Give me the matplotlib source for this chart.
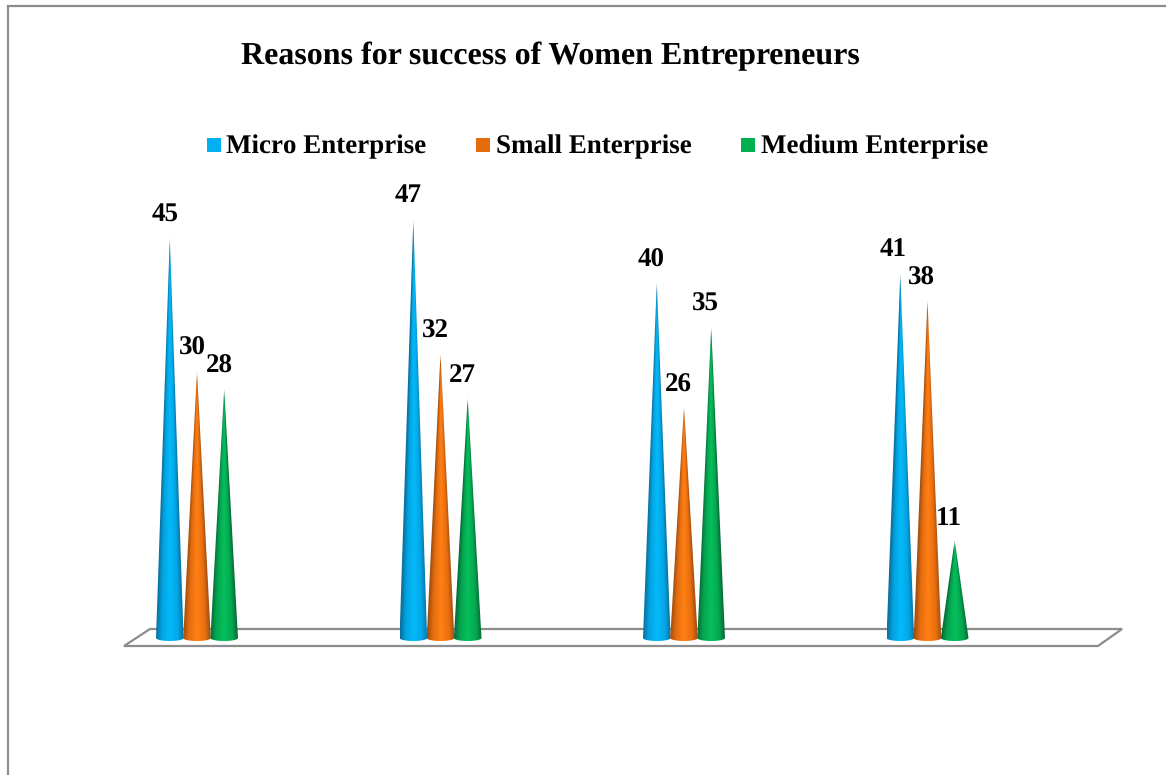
import matplotlib
matplotlib.use('Agg')
import matplotlib.pyplot as plt
from matplotlib.colors import LinearSegmentedColormap
from matplotlib.patches import Polygon, Rectangle
from matplotlib.transforms import Affine2D
import numpy as np

plt.rcParams['text.hinting'] = 'no_hinting'
plt.rcParams['text.hinting_factor'] = 1

W, H = 1166, 775

title = "Reasons for success of Women Entrepreneurs"
series_names = ["Micro Enterprise", "Small Enterprise", "Medium Enterprise"]
micro = [45, 47, 40, 41]
small = [30, 32, 26, 38]
medium = [28, 27, 35, 11]

swatch_colors = ['#00b0f0', '#e46c0a', '#00b050']
# edge, body, highlight, body, edge shades for the cones
shades = [
    ['#0b6f9c', '#02a4e2', '#05baf9', '#02a6e6', '#0b6f9c'],
    ['#9f4e0e', '#e56c10', '#ff8014', '#e96e10', '#9f4e0e'],
    ['#076a38', '#04a44e', '#06c05c', '#04a850', '#076a38'],
]
shade_stops = [0, 0.2, 0.5, 0.8, 1]

# layout in pixels
base_px = 638
px_per_unit = 8.9
group_px = 197.0
group_step = 243.5
cone_step = 27.2 / group_step
half_width = 13.8 / group_step
base_drop = 3 / px_per_unit

fig = plt.figure(figsize=(W / 100, H / 100), dpi=100)
ax = fig.add_axes([0, 0, 1, 1])
xlim = (-group_px / group_step, (W - group_px) / group_step)
ylim = ((base_px - H) / px_per_unit, base_px / px_per_unit)
ax.set_xlim(xlim)
ax.set_ylim(ylim)
ax.axis('off')

# non-data furniture is placed in pixels from the top left
px = Affine2D().scale(1, -1).translate(0, H)

# chart border, open at the bottom
grey = '#8c8c8c'
ax.plot([8, 8, W], [H, 5.5, 5.5], color=grey, lw=1.6, transform=px, solid_joinstyle='miter')

# floor of the 3D plot
floor = Polygon([(124, 646), (1098, 646), (1122, 629), (150, 629)], closed=True,
                fill=False, edgecolor=grey, lw=1.6, transform=px)
ax.add_patch(floor)

ax.text(550.5, 56, title, family='Liberation Serif', weight='bold', fontsize=23,
        ha='center', va='center', transform=px)

legend_x = [(207, 226), (476, 496), (741, 761)]
for (sx, tx), name, col in zip(legend_x, series_names, swatch_colors):
    ax.add_patch(Rectangle((sx, 138), 14, 14, color=col, lw=0, transform=px))
    ax.text(tx, 147, name, family='Liberation Serif', weight='bold', fontsize=19.1,
            ha='left', va='center', transform=px)


def cone(x, value, colors):
    # shading follows the taper, so the dark edges run up to the tip
    theta = np.linspace(np.pi, 2 * np.pi, 40)
    xs = x + half_width * np.cos(theta)
    ys = base_drop * np.sin(theta)
    outline = np.column_stack([np.r_[x, xs], np.r_[value, ys]])

    cmap = LinearSegmentedColormap.from_list('cone', list(zip(shade_stops, colors)))
    gx = np.linspace(x - half_width, x + half_width, 160)
    gy = np.linspace(value, -base_drop, 400)
    xx, yy = np.meshgrid(gx, gy)
    taper = np.clip(1 - yy / value, 0.002, 1)
    u = np.clip((xx - x) / (half_width * taper) * 0.5 + 0.5, 0, 1)
    rgba = cmap(u)
    # the very tip fades out
    rgba[..., 3] = np.clip(0.35 + (value - yy) * px_per_unit / 14, 0, 1)

    im = ax.imshow(rgba, aspect='auto', interpolation='bilinear', zorder=3,
                   extent=(x - half_width, x + half_width, -base_drop, value))
    im.set_clip_path(Polygon(outline, closed=True, transform=ax.transData))


values = [micro, small, medium]
for s, vals in enumerate(values):
    for g, v in enumerate(vals):
        cone(g + (s - 1) * cone_step, v, shades[s])

label_pos = [
    [(165, 215), (408, 196), (651, 260), (893, 250)],
    [(192, 348), (435, 331), (678, 385), (921, 278)],
    [(219, 366), (462, 376), (705, 304), (949, 519)],
]
for s, vals in enumerate(values):
    for g, v in enumerate(vals):
        ax.text(*label_pos[s][g], str(v), family='Liberation Serif', weight='bold',
                fontsize=19.2, ha='center', va='center', transform=px, zorder=5)

# imshow resets the limits
ax.set_xlim(xlim)
ax.set_ylim(ylim)
fig.savefig('out.png', dpi=100)
